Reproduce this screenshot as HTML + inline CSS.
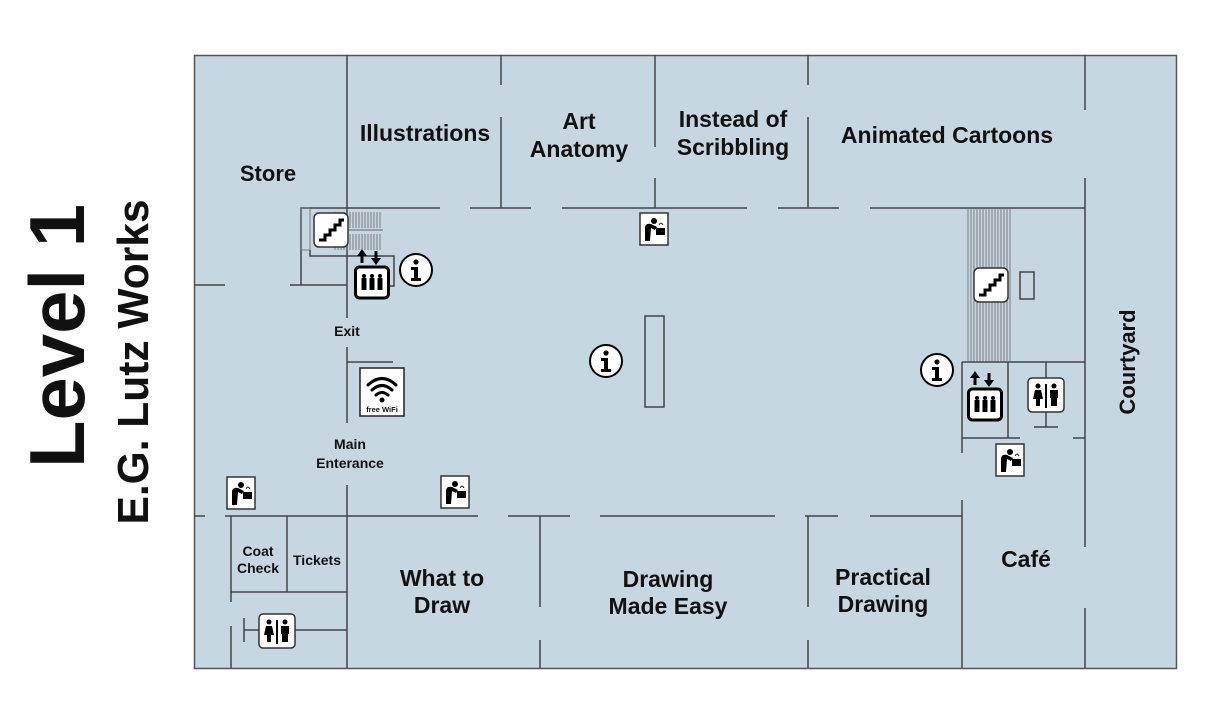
<!DOCTYPE html>
<html><head><meta charset="utf-8"><style>
html,body{margin:0;padding:0;background:#fff;}
svg{display:block}
text{font-family:"Liberation Sans",sans-serif;font-weight:bold;fill:#111}
</style></head><body>
<svg width="1230" height="720" viewBox="0 0 1230 720" xmlns="http://www.w3.org/2000/svg">
<defs>
<g id="fount">
  <rect x="0" y="0" width="28" height="32" fill="#fff" stroke="#333" stroke-width="1.5"/>
  <circle cx="14" cy="8" r="3" fill="#000"/>
  <path d="M5 28 L5 14 Q6 10 11 11 L17 14 L15 17 L11 15 L10 28 Z" fill="#000"/>
  <rect x="16" y="15" width="9" height="7" fill="#000"/>
  <path d="M19 12 q2 -4 4 0" stroke="#000" fill="none" stroke-width="0.8"/>
</g>
<g id="stairs">
  <rect x="0" y="0" width="34" height="34" rx="5" fill="#fff" stroke="#333" stroke-width="1.5"/>
  <path d="M5 27 H11 V22 H16 V17 H21 V12 H26 V7 H30" fill="none" stroke="#000" stroke-width="3"/>
</g>
<g id="elev">
  <path d="M8 2 L3 9 H6.5 V16 H9.5 V9 H13 Z" fill="#000"/>
  <path d="M22 18 L17 11 H20.5 V4 H23.5 V11 H27 Z" fill="#000"/>
  <rect x="1.5" y="20" width="33" height="31" rx="4" fill="#fff" stroke="#000" stroke-width="3"/>
  <g fill="#000">
    <circle cx="10" cy="29" r="2"/><rect x="7.5" y="31" width="5" height="12"/>
    <circle cx="18" cy="29" r="2"/><rect x="15.5" y="31" width="5" height="12"/>
    <circle cx="26" cy="29" r="2"/><rect x="23.5" y="31" width="5" height="12"/>
  </g>
</g>
<g id="info">
  <circle cx="0" cy="0" r="16" fill="#fff" stroke="#000" stroke-width="2"/>
  <circle cx="0" cy="-8" r="2.6" fill="#000"/>
  <path d="M-5 -3 H2 V8 H5 V11 H-5 V8 H-2 V0 H-5 Z" fill="#000"/>
</g>
<g id="wc">
  <rect x="0" y="0" width="36" height="34" rx="4" fill="#fff" stroke="#333" stroke-width="1.5"/>
  <circle cx="10" cy="8" r="2.5" fill="#000"/>
  <path d="M7 12 H13 L15 21 H12 V28 H8 V21 H5 Z" fill="#000"/>
  <rect x="17" y="6" width="2" height="24" fill="#000"/>
  <circle cx="26" cy="8" r="2.5" fill="#000"/>
  <path d="M22 12 H30 V20 H29 V28 H23 V20 H22 Z" fill="#000"/>
</g>
</defs>

<!-- floor -->
<rect x="194.5" y="55.5" width="982" height="613" fill="#c7d7e2" stroke="#555" stroke-width="1.5"/>

<g stroke="#444" stroke-width="1.5" fill="none">
  <!-- top room dividers -->
  <line x1="347" y1="55" x2="347" y2="318"/>
  <line x1="347" y1="347" x2="347" y2="423"/>
  <line x1="347" y1="362" x2="393" y2="362"/>
  <line x1="347" y1="485" x2="347" y2="668"/>
  <line x1="501" y1="55" x2="501" y2="85"/>
  <line x1="501" y1="117" x2="501" y2="208"/>
  <line x1="655" y1="55" x2="655" y2="147"/>
  <line x1="655" y1="178" x2="655" y2="208"/>
  <line x1="808" y1="55" x2="808" y2="85"/>
  <line x1="808" y1="117" x2="808" y2="208"/>
  <line x1="1085" y1="55" x2="1085" y2="110"/>
  <line x1="1085" y1="178" x2="1085" y2="547"/>
  <line x1="1085" y1="608" x2="1085" y2="668"/>
  <!-- y=208 -->
  <line x1="347" y1="208" x2="440" y2="208"/>
  <line x1="470" y1="208" x2="531" y2="208"/>
  <line x1="562" y1="208" x2="747" y2="208"/>
  <line x1="778" y1="208" x2="839" y2="208"/>
  <line x1="870" y1="208" x2="1085" y2="208"/>
  <!-- left y=285 -->
  <line x1="194" y1="285" x2="225" y2="285"/>
  <line x1="290" y1="285" x2="347" y2="285"/>
  <!-- stair enclosure left -->
  <polyline points="301,285 301,208 347,208"/>
  <polyline points="310,250 310,256 394,256 394,286 387,286"/>
  <!-- right stair / restrooms -->
  <polyline points="962,362 1085,362"/>
  <line x1="962" y1="362" x2="962" y2="453"/>
  <line x1="1008" y1="362" x2="1008" y2="438"/>
  <line x1="962" y1="438" x2="1020" y2="438"/>
  <line x1="1073" y1="438" x2="1085" y2="438"/>
  <line x1="1046" y1="362" x2="1046" y2="427"/>
  <line x1="1034" y1="427" x2="1058" y2="427"/>
  <rect x="1020" y="272" width="14" height="27"/>
  <!-- bottom y=516 -->
  <line x1="194" y1="516" x2="205" y2="516"/>
  <line x1="225" y1="516" x2="478" y2="516"/>
  <line x1="508" y1="516" x2="570" y2="516"/>
  <line x1="600" y1="516" x2="775" y2="516"/>
  <line x1="805" y1="516" x2="838" y2="516"/>
  <line x1="870" y1="516" x2="962" y2="516"/>
  <line x1="540" y1="516" x2="540" y2="607"/>
  <line x1="540" y1="640" x2="540" y2="668"/>
  <line x1="808" y1="516" x2="808" y2="607"/>
  <line x1="808" y1="640" x2="808" y2="668"/>
  <line x1="962" y1="500" x2="962" y2="668"/>
  <!-- coat check / tickets -->
  <line x1="231" y1="516" x2="231" y2="602"/>
  <line x1="231" y1="626" x2="231" y2="668"/>
  <line x1="287" y1="516" x2="287" y2="592"/>
  <line x1="231" y1="592" x2="347" y2="592"/>
  <line x1="244" y1="618" x2="244" y2="642"/>
  <line x1="244" y1="630" x2="347" y2="630"/>
  <!-- column -->
  <rect x="645" y="316" width="19" height="91"/>
</g>

<!-- stair treads -->
<g stroke="#666" stroke-width="0.8">
  <g id="treadsL">
    <line x1="335" y1="212" x2="335" y2="228"/><line x1="338" y1="212" x2="338" y2="228"/>
    <line x1="341" y1="212" x2="341" y2="228"/><line x1="344" y1="212" x2="344" y2="228"/>
    <line x1="347" y1="212" x2="347" y2="228"/><line x1="350" y1="212" x2="350" y2="228"/>
    <line x1="353" y1="212" x2="353" y2="228"/><line x1="356" y1="212" x2="356" y2="228"/>
    <line x1="359" y1="212" x2="359" y2="228"/><line x1="362" y1="212" x2="362" y2="228"/>
    <line x1="365" y1="212" x2="365" y2="228"/><line x1="368" y1="212" x2="368" y2="228"/>
    <line x1="371" y1="212" x2="371" y2="228"/><line x1="374" y1="212" x2="374" y2="228"/>
    <line x1="377" y1="212" x2="377" y2="228"/><line x1="380" y1="212" x2="380" y2="228"/>
  </g>
  <use href="#treadsL" transform="translate(0,22)"/>
  <g id="treadsR">
    <line x1="968" y1="209" x2="968" y2="362"/><line x1="971" y1="209" x2="971" y2="362"/>
    <line x1="974" y1="209" x2="974" y2="362"/><line x1="977" y1="209" x2="977" y2="362"/>
    <line x1="980" y1="209" x2="980" y2="362"/><line x1="983" y1="209" x2="983" y2="362"/>
    <line x1="986" y1="209" x2="986" y2="362"/><line x1="989" y1="209" x2="989" y2="362"/>
    <line x1="992" y1="209" x2="992" y2="362"/><line x1="995" y1="209" x2="995" y2="362"/>
    <line x1="998" y1="209" x2="998" y2="362"/><line x1="1001" y1="209" x2="1001" y2="362"/>
    <line x1="1004" y1="209" x2="1004" y2="362"/><line x1="1007" y1="209" x2="1007" y2="362"/>
    <line x1="1010" y1="209" x2="1010" y2="362"/>
  </g>
</g>
<line x1="330" y1="230" x2="383" y2="230" stroke="#666"/>
<rect x="301" y="208" width="9" height="42" fill="none" stroke="#666" stroke-width="0.8"/>

<!-- icons -->
<use href="#stairs" transform="translate(314,213)"/>
<use href="#stairs" transform="translate(974,268)"/>
<use href="#elev" transform="translate(354,247)"/>
<use href="#elev" transform="translate(967,369)"/>
<use href="#info" transform="translate(416,270)"/>
<use href="#info" transform="translate(606,361)"/>
<use href="#info" transform="translate(937,370)"/>
<use href="#fount" transform="translate(640,213)"/>
<use href="#fount" transform="translate(227,477)"/>
<use href="#fount" transform="translate(441,476)"/>
<use href="#fount" transform="translate(996,444)"/>
<use href="#wc" transform="translate(1028,378)"/>
<use href="#wc" transform="translate(259,614)"/>
<!-- wifi -->
<rect x="360" y="368" width="44" height="48" fill="#fff" stroke="#222" stroke-width="1.5"/>
<g fill="none" stroke="#000" stroke-width="3" stroke-linecap="round">
  <path d="M368 385 Q382 372 396 385"/>
  <path d="M372 390 Q382 381 392 390"/>
  <path d="M376 395 Q382 390 388 395"/>
</g>
<circle cx="382" cy="400" r="2.5" fill="#000"/>
<text x="382" y="412" font-size="7.5" text-anchor="middle">free WiFi</text>

<!-- labels -->
<g text-anchor="middle">
<text x="268" y="181" font-size="22">Store</text>
<text x="425" y="141" font-size="23">Illustrations</text>
<text x="579" y="129" font-size="23">Art</text>
<text x="579" y="157" font-size="23">Anatomy</text>
<text x="733" y="127" font-size="23">Instead of</text>
<text x="733" y="155" font-size="23">Scribbling</text>
<text x="947" y="143" font-size="23">Animated Cartoons</text>
<text x="347" y="336" font-size="14">Exit</text>
<text x="350" y="449" font-size="14">Main</text>
<text x="350" y="468" font-size="14">Enterance</text>
<text x="258" y="556" font-size="14">Coat</text>
<text x="258" y="573" font-size="14">Check</text>
<text x="317" y="565" font-size="14">Tickets</text>
<text x="442" y="586" font-size="23">What to</text>
<text x="442" y="613" font-size="23">Draw</text>
<text x="668" y="587" font-size="23">Drawing</text>
<text x="668" y="614" font-size="23">Made Easy</text>
<text x="883" y="585" font-size="23">Practical</text>
<text x="883" y="612" font-size="23">Drawing</text>
<text x="1026" y="567" font-size="23">Café</text>
<text transform="translate(1135,362) rotate(-90)" font-size="22">Courtyard</text>
<text transform="translate(84,336) rotate(-90)" font-size="78" textLength="264" lengthAdjust="spacingAndGlyphs">Level 1</text>
<text transform="translate(148,362) rotate(-90)" font-size="44" textLength="325" lengthAdjust="spacingAndGlyphs">E.G. Lutz Works</text>
</g>
</svg>
</body></html>
